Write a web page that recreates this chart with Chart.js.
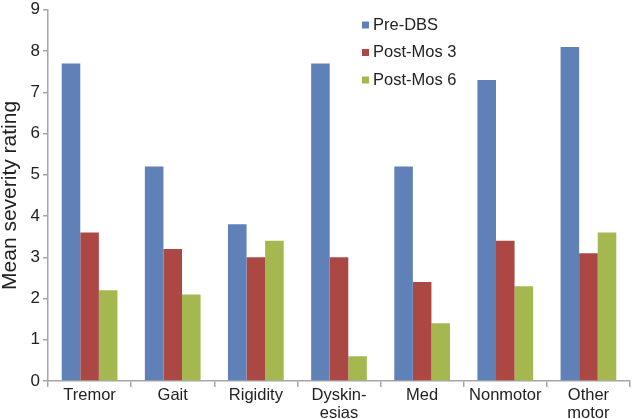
<!DOCTYPE html>
<html>
<head>
<meta charset="utf-8">
<script src="https://cdn.jsdelivr.net/npm/chart.js@4"></script>
<style>
html,body{margin:0;padding:0;background:#fff;}
#wrap{width:632px;height:419px;position:relative;}
</style>
</head>
<body>
<div id="wrap"><canvas id="c" width="632" height="419"></canvas></div>
<script>
const categories = ['Tremor', 'Gait', 'Rigidity', ['Dyskin-', 'esias'], 'Med', 'Nonmotor', ['Other', 'motor']];
const seriesNames = ['Pre-DBS', 'Post-Mos 3', 'Post-Mos 6'];
const preDBS   = [7.7, 5.2, 3.8, 7.7, 5.2, 7.3, 8.1];
const postMos3 = [3.6, 3.2, 3.0, 3.0, 2.4, 3.4, 3.1];
const postMos6 = [2.2, 2.1, 3.4, 0.6, 1.4, 2.3, 3.6];
const yTicks = [0, 1, 2, 3, 4, 5, 6, 7, 8, 9];
const colors = ['#5f81b8', '#ab4844', '#a4b84f'];

const FONT = 'Liberation Sans, Arial, sans-serif';
const TXT = '#222222';
const AXIS = '#a6a6a6';

const legendPlugin = {
  id: 'insideLegend',
  afterDraw(chart) {
    const ctx = chart.ctx;
    ctx.save();
    ctx.font = '16.5px ' + FONT;
    ctx.textBaseline = 'middle';
    chart.data.datasets.forEach((ds, i) => {
      const y = 25 + i * 27.5;
      ctx.fillStyle = ds.backgroundColor;
      ctx.fillRect(362, y - 3.5, 7, 7);
      ctx.fillStyle = TXT;
      ctx.fillText(ds.label, 373, y);
    });
    ctx.restore();
  }
};

new Chart(document.getElementById('c'), {
  type: 'bar',
  data: {
    labels: categories,
    datasets: [
      { label: seriesNames[0], data: preDBS,   backgroundColor: colors[0] },
      { label: seriesNames[1], data: postMos3, backgroundColor: colors[1] },
      { label: seriesNames[2], data: postMos6, backgroundColor: colors[2] }
    ]
  },
  options: {
    responsive: false,
    animation: false,
    devicePixelRatio: 1,
    layout: { padding: { top: 7, right: 2, left: 0, bottom: 0 } },
    datasets: { bar: { categoryPercentage: 0.67, barPercentage: 1.0 } },
    plugins: { legend: { display: false }, tooltip: { enabled: false } },
    scales: {
      x: {
        grid: { display: true, drawOnChartArea: false, drawTicks: true, tickLength: 6, color: AXIS, offset: true, lineWidth: 1.5 },
        border: { display: true, color: AXIS, width: 1.5 },
        ticks: { color: TXT, font: { family: FONT, size: 16.5, lineHeight: 1.05 }, padding: 0, maxRotation: 0, autoSkip: false },
        afterFit(s) { s.height = 38; }
      },
      y: {
        min: 0, max: 9,
        afterBuildTicks(s) { s.ticks = yTicks.map(v => ({ value: v })); },
        grid: { display: true, drawOnChartArea: false, drawTicks: true, tickLength: 5, color: AXIS, lineWidth: 1.5 },
        border: { display: true, color: AXIS, width: 1.5 },
        ticks: { color: TXT, font: { family: FONT, size: 17, lineHeight: 0.8 }, padding: 3 },
        title: { display: true, text: 'Mean severity rating', color: TXT, font: { family: FONT, size: 21, lineHeight: 1.0 }, padding: { top: 0, bottom: 0 } },
        afterFit(s) { s.width = 48; }
      }
    }
  },
  plugins: [legendPlugin]
});
</script>
</body>
</html>
